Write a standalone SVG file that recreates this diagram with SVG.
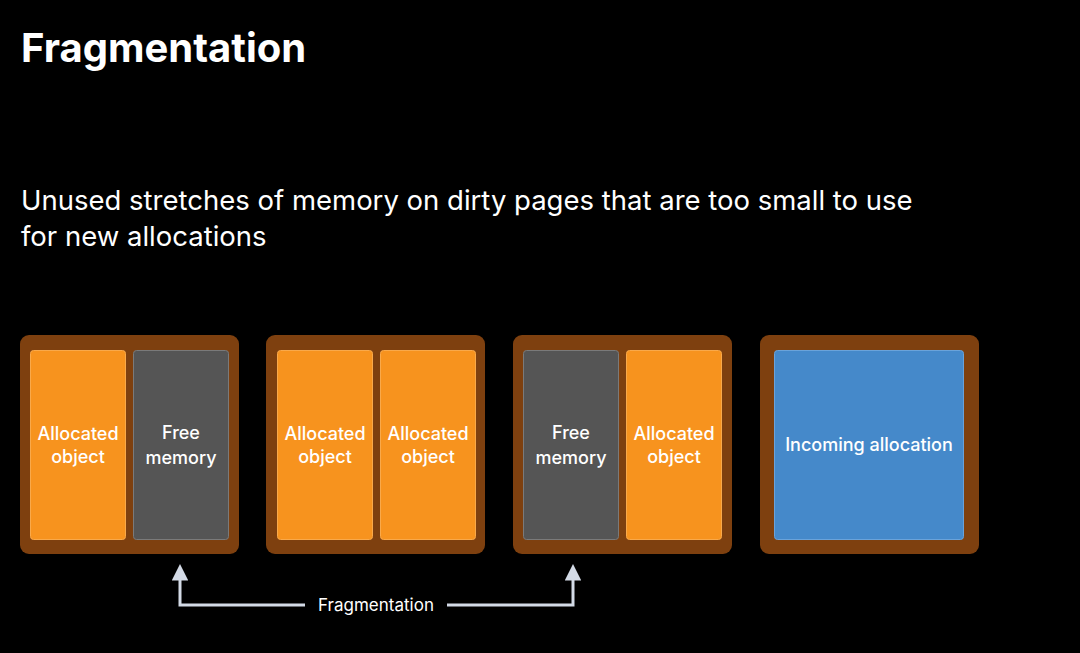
<svg xmlns="http://www.w3.org/2000/svg" width="1080" height="653" viewBox="0 0 1080 653">
<style>
.bg{fill:#000}
.page{fill:#7e400f}
.alloc{fill:#f7931e;stroke:#f9a94a;stroke-width:1}
.free{fill:#555555;stroke:#7a7a7a;stroke-width:1}
.inc{fill:#4589ca;stroke:#6aa3da;stroke-width:1}
.lbl{font-family:Inter,"Liberation Sans",sans-serif;font-size:18px;font-weight:500;fill:#fff;text-anchor:middle}
.title{font-family:Inter,"Liberation Sans",sans-serif;font-size:40px;font-weight:700;fill:#fff}
.sub{font-family:Inter,"Liberation Sans",sans-serif;font-size:27.5px;fill:#fff}
.conn{fill:none;stroke:#d3dae6;stroke-width:3}
</style>
<defs>
<marker id="ah" viewBox="0 0 10 10" refX="4" refY="5" markerWidth="5.5" markerHeight="5.5" orient="auto" markerUnits="strokeWidth">
<path d="M0,0 L10,5 L0,10 z" fill="#d3dae6"/>
</marker>
</defs>
<rect class="bg" x="0" y="0" width="1080" height="653"/>
<text class="title" x="21" y="62">Fragmentation</text>
<text class="sub" x="21" y="210">Unused stretches of memory on dirty pages that are too small to use</text>
<text class="sub" x="21" y="246">for new allocations</text>

<g id="page1">
<rect class="page" x="20" y="335" width="219" height="219" rx="9"/>
<rect class="alloc" x="30.5" y="350.5" width="95" height="189" rx="3"/>
<text class="lbl" x="78" y="440">Allocated</text><text class="lbl" x="78" y="463">object</text>
<rect class="free" x="133.5" y="350.5" width="95" height="189" rx="3"/>
<text class="lbl" x="181" y="439">Free</text><text class="lbl" x="181" y="464">memory</text>
</g>
<g id="page2">
<rect class="page" x="266" y="335" width="219" height="219" rx="9"/>
<rect class="alloc" x="277.5" y="350.5" width="95" height="189" rx="3"/>
<text class="lbl" x="325" y="440">Allocated</text><text class="lbl" x="325" y="463">object</text>
<rect class="alloc" x="380.5" y="350.5" width="95" height="189" rx="3"/>
<text class="lbl" x="428" y="440">Allocated</text><text class="lbl" x="428" y="463">object</text>
</g>
<g id="page3">
<rect class="page" x="513" y="335" width="219" height="219" rx="9"/>
<rect class="free" x="523.5" y="350.5" width="95" height="189" rx="3"/>
<text class="lbl" x="571" y="439">Free</text><text class="lbl" x="571" y="464">memory</text>
<rect class="alloc" x="626.5" y="350.5" width="95" height="189" rx="3"/>
<text class="lbl" x="674" y="440">Allocated</text><text class="lbl" x="674" y="463">object</text>
</g>
<g id="page4">
<rect class="page" x="760" y="335" width="219" height="219" rx="9"/>
<rect class="inc" x="774.5" y="350.5" width="189" height="189" rx="3"/>
<text class="lbl" x="869" y="451">Incoming allocation</text>
</g>
<g id="connectors">
<path class="conn" d="M305,605 H180 V574" marker-end="url(#ah)"/>
<path class="conn" d="M447,605 H573 V574" marker-end="url(#ah)"/>
<text class="lbl" x="376" y="611" style="font-size:17px;font-weight:400">Fragmentation</text>
</g>
</svg>
